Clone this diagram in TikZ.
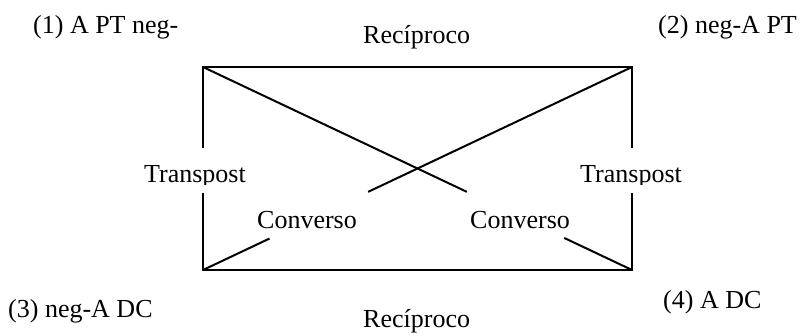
\documentclass[tikz,border=0pt]{standalone}
\usepackage{fontspec}
\setmainfont{Liberation Serif}
\usetikzlibrary{calc}
\begin{document}
\begin{tikzpicture}[x=1pt,y=-1pt,
  lbl/.style={anchor=base west, inner sep=0pt, font=\fontsize{26}{30}\selectfont},
  edge/.style={line width=2pt, line join=miter}]
\useasboundingbox (0,0) rectangle (802,335);
% corners
\coordinate (c1) at (203,67);
\coordinate (c2) at (632,67);
\coordinate (c3) at (203,270);
\coordinate (c4) at (632,270);
% breaks on the sides
\coordinate (l1) at (203,148);
\coordinate (l2) at (203,193);
\coordinate (r1) at (632,148);
\coordinate (r2) at (632,193);
% breaks on the diagonals
\coordinate (d1a) at ($(c1)!0.615!(c4)$);
\coordinate (d1b) at ($(c1)!0.842!(c4)$);
\coordinate (d2a) at ($(c3)!0.155!(c2)$);
\coordinate (d2b) at ($(c3)!0.385!(c2)$);
% labels
\node[lbl] (p1) at (33,33) {(1) A PT neg-};
\node[lbl] (p2) at (658,33) {(2) neg-A PT};
\node[lbl] (p3) at (8,317) {(3) neg-A DC};
\node[lbl] (p4) at (663,308) {(4) A DC};
\node[lbl] (rt) at (363,43) {Recíproco};
\node[lbl] (rb) at (363,327) {Recíproco};
\begin{scope}
  \clip (120,150) rectangle (700,184);
  \node[lbl] (tl) at (144,182) {Transpost};
  \node[lbl] (tr) at (580,182) {Transpost};
\end{scope}
\node[lbl] (cl) at (257,228) {Converso};
\node[lbl] (cr) at (470,228) {Converso};
% lines
\draw[edge] (l1) -- (c1) -- (c2) -- (r1);
\draw[edge] (l2) -- (c3) -- (c4) -- (r2);
\draw[edge] (c1) -- (d1a);
\draw[edge] (d1b) -- (c4);
\draw[edge] (c3) -- (d2a);
\draw[edge] (d2b) -- (c2);
\end{tikzpicture}
\end{document}
